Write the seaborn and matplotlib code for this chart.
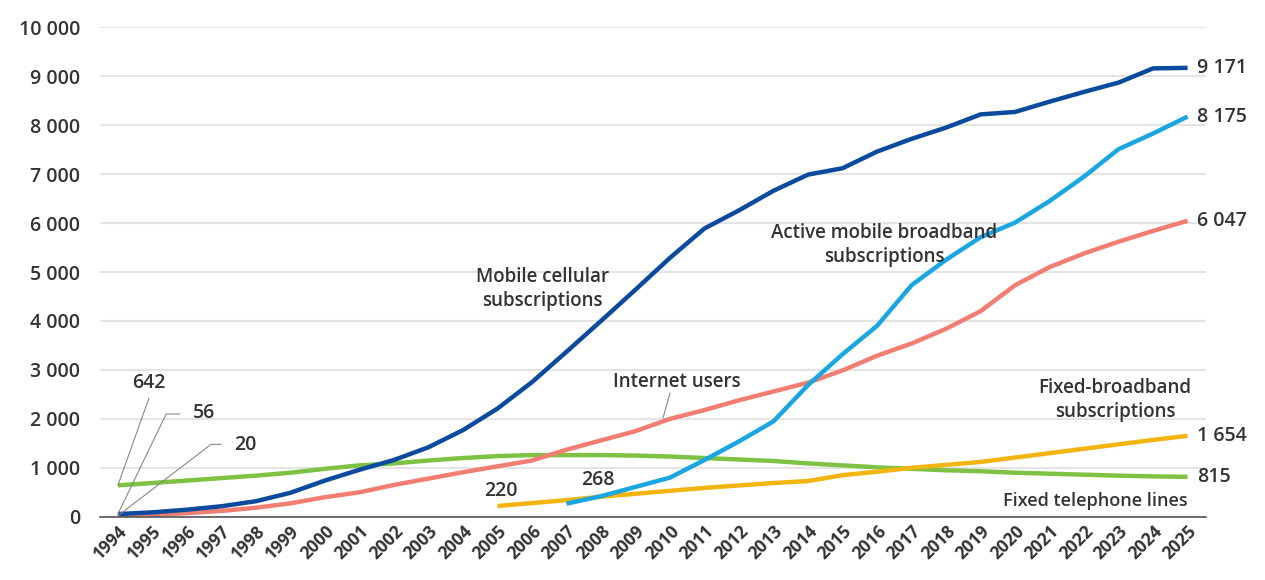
import numpy as np
import pandas as pd
import matplotlib
matplotlib.use("Agg")
import matplotlib.pyplot as plt
import seaborn as sns

# Data (millions)
years = list(range(1994, 2026))
mobile_cellular = [56, 90, 145, 215, 318, 490, 740, 960, 1160, 1420, 1770, 2210, 2750, 3370, 4000, 4640,
                   5290, 5890, 6260, 6660, 6990, 7120, 7460, 7720, 7950, 8220, 8270, 8480, 8680, 8870, 9160, 9171]
mobile_broadband = [np.nan] * 13 + [268, 420, 610, 800, 1160, 1540, 1950, 2690, 3320, 3900, 4730, 5250, 5710,
                                    6010, 6450, 6950, 7510, 7830, 8175]
internet_users = [20, 40, 75, 120, 185, 275, 400, 500, 650, 780, 910, 1030, 1150, 1370, 1560, 1750,
                  2000, 2180, 2380, 2560, 2740, 2990, 3290, 3540, 3840, 4200, 4730, 5100, 5380, 5620, 5840, 6047]
fixed_broadband = [np.nan] * 11 + [220, 280, 340, 410, 470, 530, 590, 640, 690, 730, 850, 920, 1000, 1060, 1120,
                                   1210, 1300, 1390, 1480, 1570, 1654]
fixed_telephone = [642, 690, 740, 790, 840, 900, 980, 1050, 1090, 1150, 1200, 1240, 1260, 1260, 1260, 1250,
                   1230, 1200, 1170, 1140, 1090, 1050, 1010, 980, 950, 930, 900, 880, 860, 840, 825, 815]

series = {
    "Fixed telephone lines": fixed_telephone,
    "Fixed-broadband subscriptions": fixed_broadband,
    "Internet users": internet_users,
    "Active mobile broadband subscriptions": mobile_broadband,
    "Mobile cellular subscriptions": mobile_cellular,
}
colors = {
    "Fixed telephone lines": "#7dc243",
    "Fixed-broadband subscriptions": "#f2b50f",
    "Internet users": "#f27e72",
    "Active mobile broadband subscriptions": "#1aa6e0",
    "Mobile cellular subscriptions": "#0b4b9e",
}

df = pd.DataFrame({"year": years, **series})
long_df = df.melt(id_vars="year", var_name="series", value_name="value").dropna()

sns.set_theme(style="white")
plt.rcParams["font.family"] = ["Open Sans", "DejaVu Sans"]
txt = "#333333"

fig = plt.figure(figsize=(12.65, 5.8), dpi=100)
ax = fig.add_axes([0.079, 0.109, 0.874, 0.844])

sns.lineplot(data=long_df, x="year", y="value", hue="series", palette=colors,
             linewidth=3.2, legend=False, ax=ax, solid_capstyle="butt")

ax.set_xlim(1993.48, 2025.52)
ax.set_ylim(0, 10000)
yt = list(range(0, 10001, 1000))
ax.set_yticks(yt)
ax.set_yticklabels([f"{v:,}".replace(",", " ") for v in yt], fontsize=14, color=txt, fontweight="semibold")
ax.set_xticks(years)
ax.set_xticklabels([str(y) for y in years], rotation=45, ha="right", rotation_mode="anchor",
                   fontsize=12.5, color=txt, fontweight="bold")
ax.tick_params(axis="y", length=0, pad=14)
ax.tick_params(axis="x", length=0, pad=4)
ax.set_xlabel("")
ax.set_ylabel("")
ax.grid(axis="y", color="#e4e4e4", linewidth=1.5)
ax.set_axisbelow(True)
for s in ["top", "right", "left"]:
    ax.spines[s].set_visible(False)
ax.spines["bottom"].set_color("#555555")
ax.spines["bottom"].set_linewidth(1.2)

# End values
for name, vals in series.items():
    ax.annotate(f"{vals[-1]:,}".replace(",", " "), xy=(years[-1], vals[-1]), xytext=(7, 0),
                textcoords="offset points", va="center", ha="left", fontsize=14, color=txt,
                fontweight="semibold")

# Series labels
lab = dict(fontsize=13.5, color=txt, fontweight="semibold", ha="center", va="center", linespacing=1.25)
ax.text(2006.3, 4650, "Mobile cellular\nsubscriptions", **lab)
ax.text(2016.2, 5550, "Active mobile broadband\nsubscriptions", **lab)
ax.text(2010.2, 2750, "Internet users", **lab)
ax.text(2022.9, 2390, "Fixed-broadband\nsubscriptions", **lab)
ax.text(2025, 330, "Fixed telephone lines", **{**lab, "ha": "right", "fontsize": 13})
ax.plot([2010.0, 2009.8], [2530, 2020], color="#888888", lw=0.8)

# Start values
num = {**lab, "fontsize": 14}
ax.text(2005.1, 520, "220", **num)
ax.text(2007.9, 750, "268", **num)
lead = dict(color="#888888", lw=0.8)
ax.plot([years[0], 1994.9], [fixed_telephone[0], 2420], **lead)
ax.text(1994.9, 2740, str(fixed_telephone[0]), **num)
ax.plot([years[0], 1995.4, 1995.8], [mobile_cellular[0], 2100, 2100], **lead)
ax.text(1996.5, 2110, str(mobile_cellular[0]), **num)
ax.plot([years[0], 1996.7, 1997.0], [internet_users[0], 1480, 1480], **lead)
ax.text(1997.7, 1470, str(internet_users[0]), **num)

fig.savefig("out.png", dpi=100)
